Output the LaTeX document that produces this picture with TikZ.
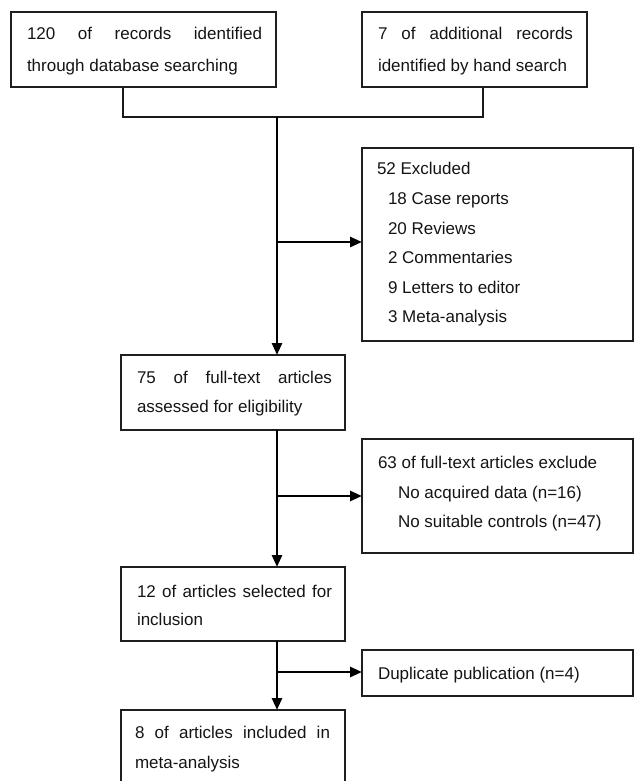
\documentclass[tikz,border=0pt]{standalone}
\usepackage{fontspec}
\setmainfont{Liberation Sans}
\usetikzlibrary{arrows.meta}
\newlength\px
\setlength\px{0.75pt}
\begin{document}
\begin{tikzpicture}[x=0.75pt,y=-0.75pt,
  box/.style={draw=black!88, line width=1.2pt, inner sep=0pt, outer sep=0pt, rectangle},
  txt/.style={anchor=base west, inner sep=0pt, outer sep=0pt, text=black!92, font=\fontsize{12.75}{15}\selectfont},
  joinline/.style={draw=black!90, line width=1.25pt},
  conn/.style={draw=black, line width=2pt},
  arr/.style={conn, -{Triangle[length=9pt,width=7.5pt]}}]
\useasboundingbox (0,0) rectangle (635,781);
\clip (0,0) rectangle (635,781);

% boxes
\node[box, minimum width=265\px, minimum height=75\px] (b1) at (143.5,49.5) {};
\node[box, minimum width=225\px, minimum height=75\px] (b2) at (474.5,49.5) {};
\node[box, minimum width=271\px, minimum height=193\px] (b52) at (497.5,244.5) {};
\node[box, minimum width=224\px, minimum height=75\px] (b75) at (233,392.5) {};
\node[box, minimum width=271\px, minimum height=114\px] (b63) at (497.5,496) {};
\node[box, minimum width=224\px, minimum height=74\px] (b12) at (233,604) {};
\node[box, minimum width=271\px, minimum height=46\px] (bdup) at (497.5,673) {};
\node[box, minimum width=224\px, minimum height=90\px] (b8) at (233,755) {};

% texts
\node[txt] (t1a) at (27,40) {\makebox[235\px][s]{120 of records identified}};
\node[txt] (t1b) at (27,72) {through database searching};
\node[txt] (t2a) at (378,40) {\makebox[195\px][s]{7 of additional records}};
\node[txt] (t2b) at (378,72) {identified by hand search};

\node[txt] (t52a) at (377,175) {52 Excluded};
\node[txt] (t52b) at (388,204.5) {18 Case reports};
\node[txt] (t52c) at (388,234) {20 Reviews};
\node[txt] (t52d) at (388,263.5) {2 Commentaries};
\node[txt] (t52e) at (388,293) {9 Letters to editor};
\node[txt] (t52f) at (388,322) {3 Meta-analysis};

\node[txt] (t75a) at (137,383) {\makebox[195\px][s]{75 of full-text articles}};
\node[txt] (t75b) at (137,412) {assessed for eligibility};

\node[txt] (t63a) at (378,468) {63 of full-text articles exclude};
\node[txt] (t63b) at (398,498) {No acquired data (n=16)};
\node[txt] (t63c) at (398,527) {No suitable controls (n=47)};

\node[txt] (t12a) at (137,597) {\makebox[195\px][s]{12 of articles selected for}};
\node[txt] (t12b) at (137,625) {inclusion};

\node[txt] (tdup) at (378,679) {Duplicate publication (n=4)};

\node[txt] (t8a) at (135,738) {\makebox[195\px][s]{8 of articles included in}};
\node[txt] (t8b) at (135,768) {meta-analysis};

% junction points
\coordinate (j1) at (123,117);
\coordinate (j2) at (483,117);
\coordinate (jm) at (277,117);
\coordinate (br1) at (277,242);
\coordinate (br2) at (277,496);
\coordinate (br3) at (277,672);

% connectors
\draw[joinline] (b1.south -| j1) -- (j1) -- (j2) -- (b2.south -| j2);
\draw[arr] (jm) -- (b75.north -| jm);
\draw[arr] (br1) -- (b52.west |- br1);
\draw[arr] (b75.south -| jm) -- (b12.north -| jm);
\draw[arr] (br2) -- (b63.west |- br2);
\draw[arr] (b12.south -| jm) -- (b8.north -| jm);
\draw[arr] (br3) -- (bdup.west |- br3);
\end{tikzpicture}
\end{document}
